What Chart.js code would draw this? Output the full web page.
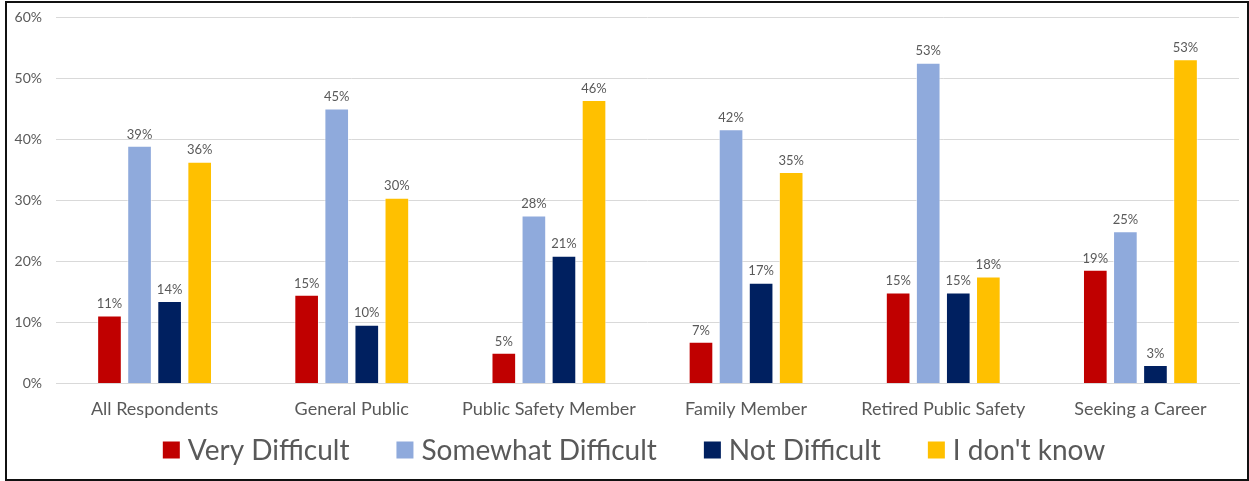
<!DOCTYPE html>
<html>
<head>
<meta charset="utf-8">
<script src="https://cdn.jsdelivr.net/npm/chart.js@4.4.1/dist/chart.umd.min.js"></script>
<style>
  html, body { margin: 0; padding: 0; background: #fff; }
  #frame {
    position: absolute; left: 5px; top: 1px;
    width: 1240px; height: 476px;
    border: 2px solid #111;
    background: #fff;
  }
  #wrap { position: absolute; left: 0; top: 0; width: 1240px; height: 476px; }
</style>
</head>
<body>
<div id="frame"><div id="wrap"><canvas id="chart"></canvas></div></div>
<script>
"use strict";

// Chart data
const categories = [
  "All Respondents",
  "General Public",
  "Public Safety Member",
  "Family Member",
  "Retired Public Safety",
  "Seeking a Career",
];
const veryDifficult = [11.1, 14.5, 5.0, 6.8, 14.9, 18.6];
const somewhatDifficult = [38.9, 45.0, 27.5, 41.6, 52.5, 24.9];
const notDifficult = [13.5, 9.6, 20.9, 16.5, 14.9, 3.0];
const dontKnow = [36.3, 30.4, 46.4, 34.6, 17.5, 53.1];
const yTicks = [0, 10, 20, 30, 40, 50, 60];

const textColor = "#595959";
const fontFamily = "Lato, 'Open Sans', sans-serif";

// Draw value labels above each bar
const valueLabels = {
  id: "valueLabels",
  afterDatasetsDraw(chart) {
    const ctx = chart.ctx;
    ctx.save();
    ctx.font = "13px " + fontFamily;
    ctx.fillStyle = textColor;
    ctx.textAlign = "center";
    ctx.textBaseline = "bottom";
    chart.data.datasets.forEach((ds, i) => {
      chart.getDatasetMeta(i).data.forEach((bar, j) => {
        ctx.fillText(Math.round(ds.data[j]) + "%", bar.x, bar.y - 5);
      });
    });
    ctx.restore();
  },
};

// Bottom legend, spaced like the original (small box-text gap, wide item gap)
const bottomLegend = {
  id: "bottomLegend",
  afterDraw(chart) {
    const ctx = chart.ctx;
    const box = 17, gap = 8, spacing = 47;
    const y = chart.height - 29;
    ctx.save();
    ctx.font = "28px " + fontFamily;
    ctx.textBaseline = "middle";
    const items = chart.data.datasets.map((ds) => ({
      text: ds.label,
      color: ds.backgroundColor,
      w: box + gap + ctx.measureText(ds.label).width,
    }));
    const total = items.reduce((a, it) => a + it.w, 0) + spacing * (items.length - 1);
    let x = chart.width / 2 + 7 - total / 2;
    items.forEach((it) => {
      ctx.fillStyle = it.color;
      ctx.fillRect(x, y - box / 2, box, box);
      ctx.fillStyle = textColor;
      ctx.fillText(it.text, x + box + gap, y + 1);
      x += it.w + spacing;
    });
    ctx.restore();
  },
};

function dataset(label, data, color) {
  return {
    label: label,
    data: data,
    backgroundColor: color,
    borderColor: "rgba(255,255,255,0.6)",
    borderWidth: 1,
    categoryPercentage: 0.61,
    barPercentage: 0.82,
  };
}

new Chart(document.getElementById("chart"), {
  type: "bar",
  data: {
    labels: categories,
    datasets: [
      dataset("Very Difficult", veryDifficult, "#C00000"),
      dataset("Somewhat Difficult", somewhatDifficult, "#8FAADC"),
      dataset("Not Difficult", notDifficult, "#002060"),
      dataset("I don't know", dontKnow, "#FFC000"),
    ],
  },
  options: {
    responsive: true,
    maintainAspectRatio: false,
    animation: false,
    layout: { padding: { left: 0, right: 8, top: 14, bottom: 52 } },
    plugins: {
      legend: { display: false },
      tooltip: { enabled: false },
    },
    scales: {
      x: {
        grid: { display: false },
        border: { color: "#D9D9D9" },
        ticks: {
          color: textColor,
          font: { size: 18, family: fontFamily },
          padding: 7,
        },
      },
      y: {
        min: 0,
        max: 60,
        afterBuildTicks: (axis) => {
          axis.ticks = yTicks.map((v) => ({ value: v }));
        },
        afterFit: (axis) => {
          axis.width = 49;
          // tick padding is horizontal only here; keep it off the top/bottom
          axis.paddingTop = 0;
          axis.paddingBottom = 0;
        },
        grid: { color: "#D9D9D9", drawTicks: false },
        border: { display: false },
        ticks: {
          color: textColor,
          font: { size: 14, family: fontFamily },
          padding: 14,
          callback: (v) => v + "%",
        },
      },
    },
  },
  plugins: [valueLabels, bottomLegend],
});
</script>
</body>
</html>
